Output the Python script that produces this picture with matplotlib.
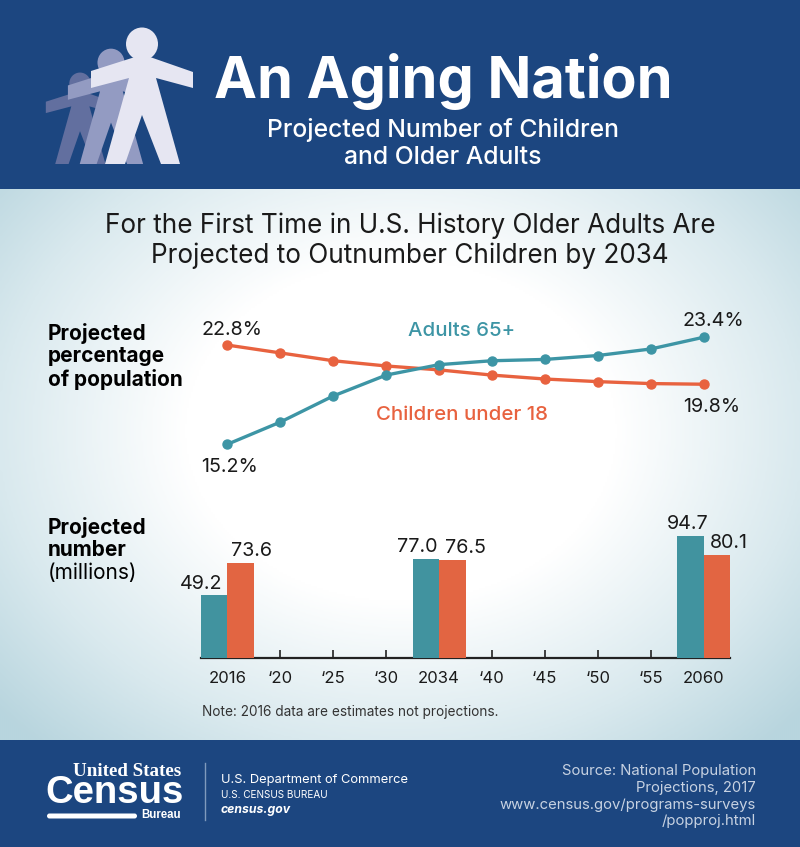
import numpy as np
import matplotlib
matplotlib.use("Agg")
import matplotlib.pyplot as plt
from matplotlib.patches import Polygon, Ellipse, Rectangle, FancyBboxPatch
from matplotlib.colors import LinearSegmentedColormap

# ---- data ----
years = ["2016", "‘20", "‘25", "‘30", "2034", "‘40", "‘45", "‘50", "‘55", "2060"]
adults_pct = [15.2, 16.9, 18.9, 20.5, 21.3, 21.6, 21.7, 22.0, 22.5, 23.4]
children_pct = [22.8, 22.2, 21.6, 21.2, 20.9, 20.5, 20.2, 20.0, 19.85, 19.8]
bar_idx = [0, 4, 9]
adults_num = [49.2, 77.0, 94.7]
children_num = [73.6, 76.5, 80.1]

NAVY = "#1c4680"
TEAL = "#41939f"
TEAL_L = "#3d95a5"
ORANGE = "#e26542"
ORANGE_L = "#e8623f"
INK = "#1a1a1a"
FONT = "Inter"
W, H = 800, 847

plt.rcParams["font.family"] = [FONT, "DejaVu Sans"]
fig = plt.figure(figsize=(W / 100, H / 100), dpi=100)


def rect(left, top, right, bottom):
    return [left / W, 1 - bottom / H, (right - left) / W, (bottom - top) / H]


bg = fig.add_axes([0, 0, 1, 1], zorder=0)
bg.set_xlim(0, W)
bg.set_ylim(H, 0)
bg.axis("off")

# backdrop gradient
yy, xx = np.mgrid[189:741:2, 0:W:2]
r = np.sqrt(((xx - 400) / 430) ** 2 + ((yy - 430) / 340) ** 2)
cmap = LinearSegmentedColormap.from_list(
    "g", [(0, "#ffffff"), (0.4, "#ffffff"), (0.75, "#d9e9ee"), (1, "#b8d5de")], N=256)
bg.imshow(np.clip(r / 1.25, 0, 1), cmap=cmap, vmin=0, vmax=1, extent=(0, W, 741, 189),
          aspect="auto", interpolation="bilinear")
bg.set_xlim(0, W)
bg.set_ylim(H, 0)
bg.add_patch(Rectangle((0, 0), W, 189.5, color=NAVY, lw=0))
bg.add_patch(Rectangle((0, 740), W, 107, color=NAVY, lw=0))

# pictogram
body = np.array([(135, 57), (91, 71), (91, 88), (129, 78), (105, 164), (125, 164), (142, 115),
                 (161, 164), (180, 164), (156, 78), (193, 88), (193, 72), (150, 57)], float)


def person(cx, scale, color, z):
    pts = body.copy()
    pts[:, 0] = cx + (pts[:, 0] - 142) * scale
    pts[:, 1] = 164 + (pts[:, 1] - 164) * scale
    bg.add_patch(Polygon(pts, closed=True, color=color, lw=0, zorder=z))
    bg.add_patch(Ellipse((cx, 164 - 120 * scale), 32 * scale, 33 * scale, color=color, lw=0, zorder=z))


person(80, 0.67, "#626f9f", 2)
person(111, 0.845, "#939bc2", 3)
person(142, 1.0, "#e6e6f2", 4)


def put(x, y, s, size, color=INK, ha="left", weight="normal", **kw):
    return bg.text(x, y, s, fontsize=size, color=color, ha=ha, va="center", fontweight=weight, **kw)


put(443, 82, "An Aging Nation", 41.5, "white", "center", "bold")
put(443, 129.5, "Projected Number of Children", 17.8, "white", "center", "medium")
put(443, 157, "and Older Adults", 17.8, "white", "center", "medium")
put(410, 226, "For the First Time in U.S. History Older Adults Are", 18.8, INK, "center")
put(410, 256, "Projected to Outnumber Children by 2034", 18.8, INK, "center")

for y, s in zip((333, 356, 380), ("Projected", "percentage", "of population")):
    put(48, y, s, 15, "black", weight="bold")
for y, s in zip((527, 550), ("Projected", "number")):
    put(48, y, s, 15, "black", weight="bold")
put(48, 573, "(millions)", 15, "black")
put(202, 712, "Note: 2016 data are estimates not projections.", 9.8, "#333333")

# line panel
ax1 = fig.add_axes(rect(201, 320.3, 730, 459.9), zorder=2)
ax1.patch.set_alpha(0)
ax1.axis("off")
x = np.arange(len(years))
ax1.plot(x, adults_pct, color=TEAL_L, lw=2.4, marker="o", ms=6.5, zorder=3)
ax1.plot(x, children_pct, color=ORANGE_L, lw=2.4, marker="o", ms=6.5, zorder=2.5)
ax1.set_xlim(-0.5, 9.5)
ax1.set_ylim(14, 24.7)


def lab(ax, xv, yv, s, dx, dy, size=14.2, color=INK, **kw):
    ax.annotate(s, (xv, yv), xytext=(dx, dy), textcoords="offset pixels", ha="center", va="center",
                fontsize=size, color=color, annotation_clip=False, **kw)


lab(ax1, 0, adults_pct[0], f"{adults_pct[0]:.1f}%", 2, -23)
lab(ax1, 0, children_pct[0], f"{children_pct[0]:.1f}%", 5, 15)
lab(ax1, 9, adults_pct[-1], f"{adults_pct[-1]:.1f}%", 10, 16)
lab(ax1, 9, children_pct[-1], f"{children_pct[-1]:.1f}%", 8, -23)
put(462, 331, "Adults 65+", 14.7, TEAL_L, "center", "medium", zorder=5)
put(462, 415, "Children under 18", 14.7, ORANGE_L, "center", "medium", zorder=5)

# bar panel
ax2 = fig.add_axes(rect(201, 529.2, 730, 658.3), zorder=2)
ax2.patch.set_alpha(0)
ax2.set_xlim(-0.5, 9.5)
ax2.set_ylim(0, 100)
bx = np.array(bar_idx, float)
ax2.bar(bx - 0.25, adults_num, width=0.5, color=TEAL, zorder=3)
ax2.bar(bx + 0.25, children_num, width=0.5, color=ORANGE, zorder=3)
for s in ("top", "left", "right"):
    ax2.spines[s].set_visible(False)
ax2.spines["bottom"].set_linewidth(1.6)
ax2.spines["bottom"].set_color("#222222")
ax2.set_axisbelow(True)
ax2.set_yticks([])
ax2.set_xticks(x, years)
ax2.tick_params(axis="x", direction="in", length=6, width=1.2, color="#222222",
                labelsize=12, labelcolor=INK, pad=9)

for xv, v, dx, dy in zip(bx - 0.25, adults_num, (-13, -9, -3), (11, 12, 12)):
    lab(ax2, xv, v, f"{v:.1f}", dx, dy)
for xv, v, dx, dy in zip(bx + 0.25, children_num, (11, 13, 12), (12, 12, 12)):
    lab(ax2, xv, v, f"{v:.1f}", dx, dy)

# footer
put(127, 771, "United States", 13.7, "white", "center", "bold", family="Liberation Serif")
put(115, 793, "Census", 27.5, "white", "center", "bold", family="Liberation Sans")
put(161, 815, "Bureau", 8.3, "white", "center", "bold", family="Liberation Sans")
bg.add_patch(FancyBboxPatch((47, 813.5), 90, 5, boxstyle="round,pad=0,rounding_size=2.5", color="white", lw=0))
bg.plot([204.5, 204.5], [763, 820], color="#7f9abd", lw=1)
put(221, 779.5, "U.S. Department of Commerce", 9.3, "white")
put(221, 795.5, "U.S. CENSUS BUREAU", 7.2, "white")
put(221, 810.5, "census.gov", 8.8, "white", weight="bold", style="italic")

src = ["Source: National Population", "Projections, 2017", "www.census.gov/programs-surveys", "/popproj.html"]
for y, s in zip((771, 788, 805, 821), src):
    put(756, y, s, 10.7, "#c7d2e2", "right")

fig.savefig("out.png", dpi=100)
